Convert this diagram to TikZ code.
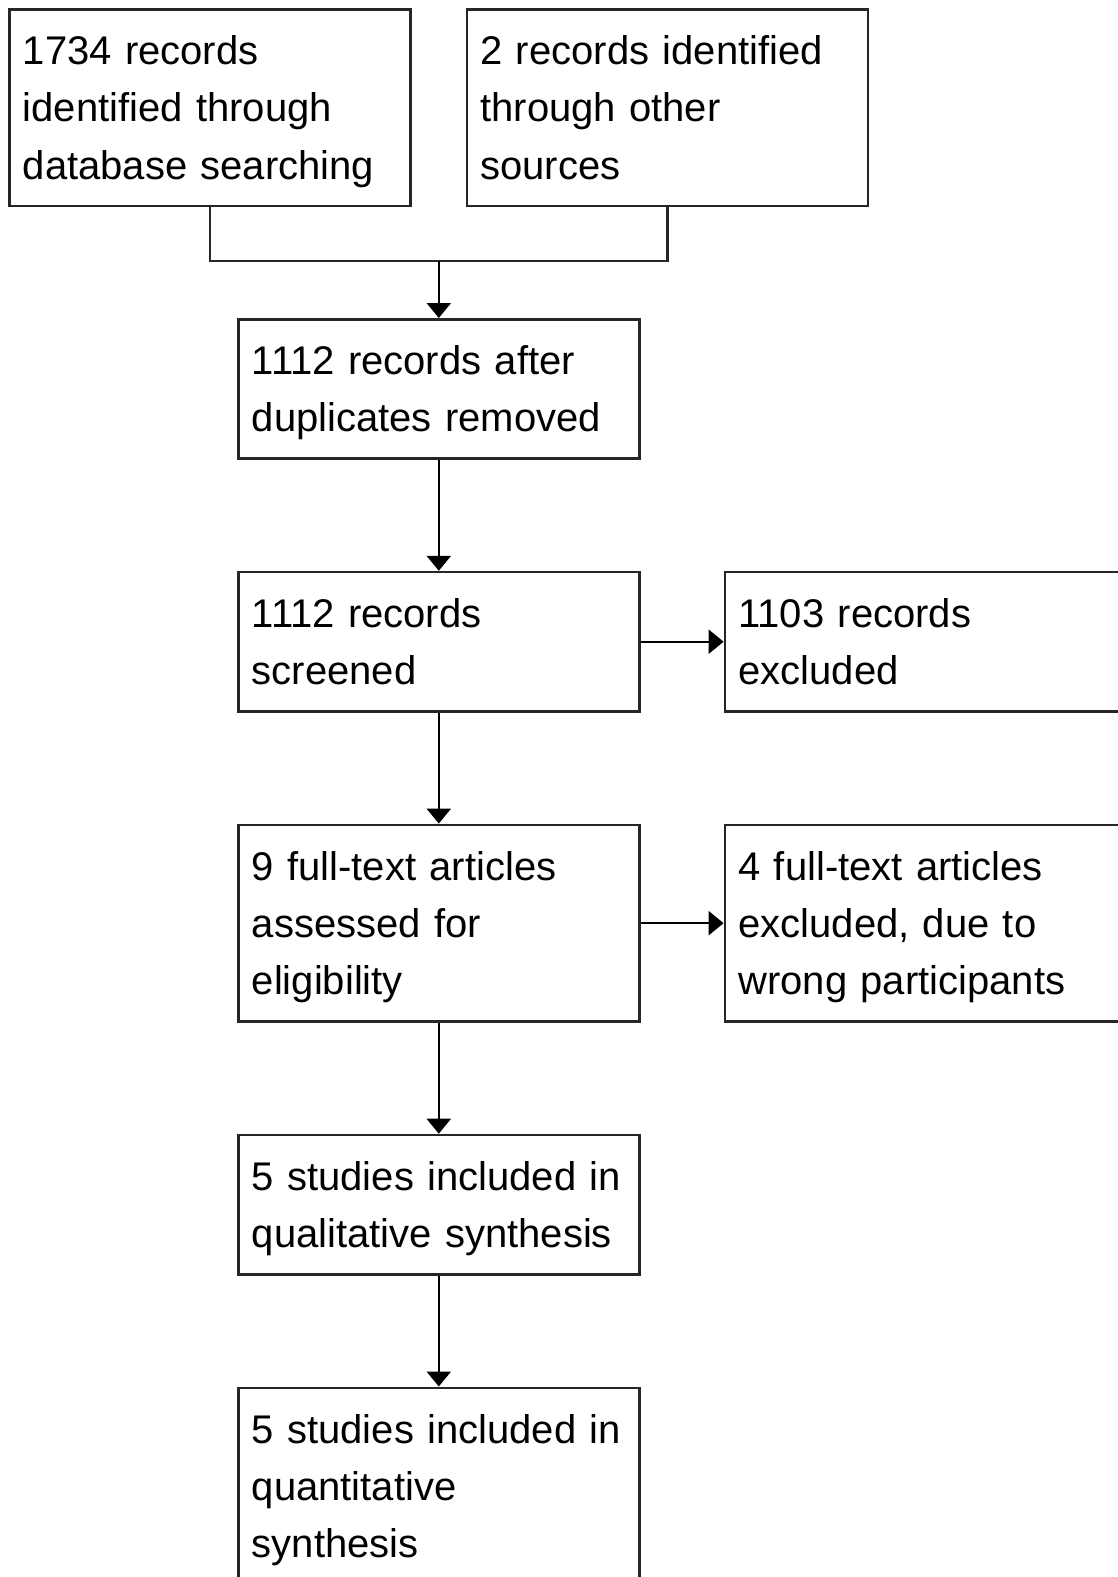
\documentclass[tikz,border=0pt]{standalone}
\usepackage{fontspec}
\setmainfont{Liberation Sans}
\usetikzlibrary{positioning,arrows.meta}

\tikzset{
  stepbox/.style={draw=black!85, line width=2.6pt, anchor=north west,
    text width=374pt, inner xsep=13.5pt, inner ysep=12.3pt, align=left,
    font=\fontsize{40}{57.3}\selectfont,
    execute at begin node=\rule{0pt}{43pt},
    execute at end node=\rule[-14.3pt]{0pt}{14.3pt}},
  flow/.style={black, line width=2.4pt, -{Triangle[width=24pt,length=15pt]}},
  joinline/.style={black!85, line width=2.4pt}
}

\begin{document}
\begin{tikzpicture}[x=1pt, y=1pt]
  \useasboundingbox (0,0) rectangle (1118,-1577);
  % identification
  \node[stepbox] (db) at (8,-8) {1734 records\\identified through\\database searching};
  \node[stepbox, right=54pt of db.north east, anchor=north west] (other) {2 records identified\\through other\\sources};
  \node[stepbox] (dedup) at (237,-318) {1112 records after\\duplicates removed};
  % screening
  \node[stepbox, below=111pt of dedup.south west, anchor=north west] (screen) {1112 records\\screened};
  \node[stepbox, right=83pt of screen.north east, anchor=north west] (excl) {1103 records\\excluded};
  % eligibility
  \node[stepbox, below=111pt of screen.south west, anchor=north west] (full) {9 full-text articles\\assessed for\\eligibility};
  \node[stepbox, right=83pt of full.north east, anchor=north west] (fullexcl) {4 full-text articles\\excluded, due to\\wrong participants};
  % included
  \node[stepbox, below=111pt of full.south west, anchor=north west] (qual) {5 studies included in\\qualitative synthesis};
  \node[stepbox, below=111pt of qual.south west, anchor=north west] (quant) {5 studies included in\\quantitative\\synthesis};
  % connectors
  \coordinate (join) at (dedup.north |- 0,-261);
  \draw[joinline] (db.south) |- (join) -| (other.south);
  \draw[flow] (join) -- (dedup.north);
  \draw[flow] (dedup) -- (screen);
  \draw[flow] (screen) -- (excl);
  \draw[flow] (screen) -- (full);
  \draw[flow] (full) -- (fullexcl);
  \draw[flow] (full) -- (qual);
  \draw[flow] (qual) -- (quant);
\end{tikzpicture}
\end{document}
